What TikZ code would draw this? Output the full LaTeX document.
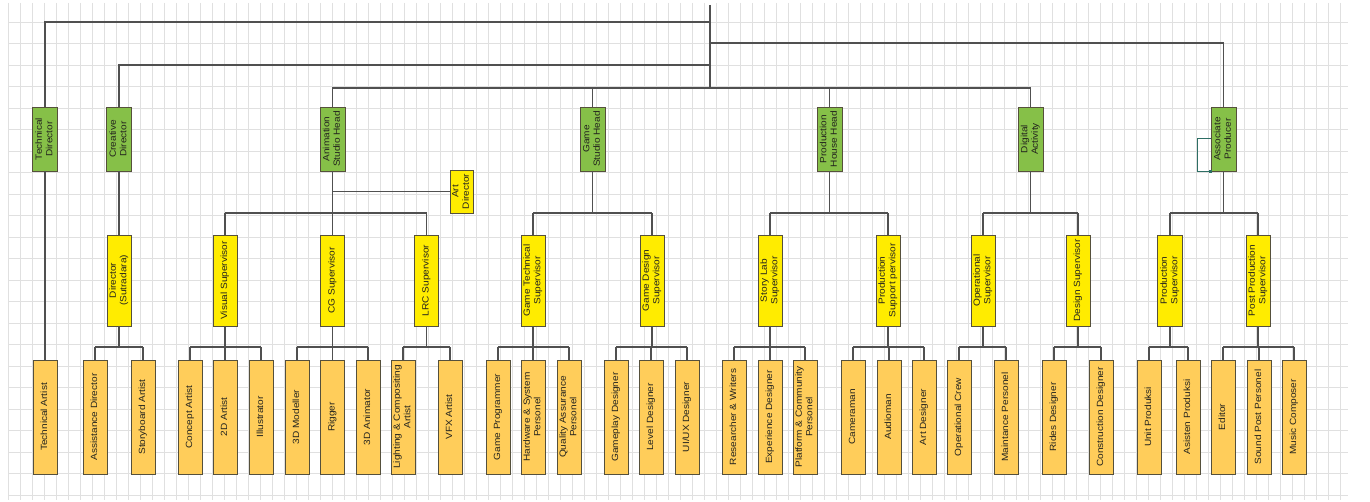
\documentclass[tikz,border=0pt]{standalone}
\usepackage{fontspec}
\setmainfont{Liberation Sans}
\usepackage{graphicx}
\definecolor{headfill}{RGB}{134,192,72}
\definecolor{supfill}{RGB}{255,236,0}
\definecolor{stafffill}{RGB}{255,205,90}
\definecolor{boxline}{RGB}{85,80,60}
\definecolor{connc}{RGB}{80,80,80}
\definecolor{gridc}{RGB}{224,224,224}
\definecolor{txtc}{RGB}{35,35,30}
\definecolor{brackc}{RGB}{45,110,100}
\newcommand\rtext[1]{\rotatebox{90}{\scalebox{1.12}[1]{\begin{tabular}{@{}c@{}}#1\end{tabular}}}}
\newcommand\famtree[5]{%
  \draw[conn] (#1.south) -- (#1.south |- #2);
  \draw[conn] (#3.north |- #2) -- (#4.north |- #2);
  \foreach \ch in {#5}{\draw[conn] (\ch.north) -- (\ch.north |- #2);}%
}
\tikzset{
  base/.style={draw=boxline, line width=0.9pt, inner sep=0pt, minimum width=24pt,
    font=\fontsize{9}{10.5}\selectfont, text=txtc},
  headbox/.style={base, fill=headfill, minimum height=64pt, minimum width=25pt},
  supbox/.style={base, fill=supfill, minimum height=91pt},
  staffbox/.style={base, fill=stafffill, minimum height=114pt},
  conn/.style={draw=connc, line width=1.1pt},
  gridline/.style={draw=gridc, line width=0.6pt},
  brack/.style={draw=brackc, line width=1pt},
}
\begin{document}
\begin{tikzpicture}[x=1pt,y=-1pt]
\useasboundingbox (0,0) rectangle (1370,502);
\fill[white] (0,0) rectangle (1370,502);
% grid
\foreach \gx in {8,20,...,1348} \draw[gridline] (\gx,3) -- (\gx,500);
\foreach \gy in {22,43.5,...,500} \draw[gridline] (8,\gy) -- (1348,\gy);

% heads
\node[headbox] (TD) at (45,139) {\rtext{Technical\\Director}};
\node[headbox] (CD) at (119,139) {\rtext{Creative\\Director}};
\node[headbox] (ASH) at (332.5,139) {\rtext{Animation\\Studio Head}};
\node[headbox] (GSH) at (592.5,139) {\rtext{Game\\Studio Head}};
\node[headbox] (PHH) at (829.5,139) {\rtext{Production\\House Head}};
\node[headbox] (DA) at (1030.5,139) {\rtext{Digital\\Activity}};
\node[headbox] (AP) at (1223.5,139) {\rtext{Associate\\Producer}};
\node[base, fill=supfill, minimum width=23pt, minimum height=43pt] (AD) at (461.5,191.5) {\rtext{Art\\Director}};

% supervisors
\node[supbox] (DIR) at (119,280.5) {\rtext{Director\\(Sutradara)}};
\node[supbox] (VS) at (225,280.5) {\rtext{Visual Supervisor}};
\node[supbox] (CGS) at (332.5,280.5) {\rtext{CG Supervisor}};
\node[supbox] (LRC) at (426.5,280.5) {\rtext{LRC Supervisor}};
\node[supbox] (GTS) at (533,280.5) {\rtext{Game Technical\\Supervisor}};
\node[supbox] (GDS) at (652,280.5) {\rtext{Game Design\\Supervisor}};
\node[supbox] (SLS) at (770,280.5) {\rtext{Story Lab\\Supervisor}};
\node[supbox] (PSS) at (888,280.5) {\rtext{Production\\Support pervisor}};
\node[supbox] (OPS) at (983,280.5) {\rtext{Operational\\Supervisor}};
\node[supbox] (DSS) at (1078,280.5) {\rtext{Design Supervisor}};
\node[supbox, minimum width=25pt] (PRS) at (1170,280.5) {\rtext{Production\\Supervisor}};
\node[supbox] (PPS) at (1258,280.5) {\rtext{Post Production\\Supervisor}};

% staff
\node[staffbox] (TA) at (45,417) {\rtext{Technical Artist}};
\node[staffbox] (AsD) at (95,417) {\rtext{Assistance Director}};
\node[staffbox] (SbA) at (143,417) {\rtext{Storyboard Artist}};
\node[staffbox] (CA) at (190,417) {\rtext{Concept Artist}};
\node[staffbox] (TwoD) at (225,417) {\rtext{2D Artist}};
\node[staffbox] (Ill) at (261,417) {\rtext{Illustrator}};
\node[staffbox] (Mod) at (297,417) {\rtext{3D Modeller}};
\node[staffbox] (Rig) at (332.5,417) {\rtext{Rigger}};
\node[staffbox] (Ani) at (368,417) {\rtext{3D Animator}};
\node[staffbox] (LCA) at (403,417) {\rtext{Lighting \& Compositing\\Artist}};
\node[staffbox] (VFX) at (450,417) {\rtext{VFX Artist}};
\node[staffbox] (GP) at (498,417) {\rtext{Game Programmer}};
\node[staffbox] (HSP) at (533,417) {\rtext{Hardware \& System\\Personel}};
\node[staffbox] (QAP) at (569,417) {\rtext{Quality Assurance\\Personel}};
\node[staffbox] (GD) at (616,417) {\rtext{Gameplay Designer}};
\node[staffbox] (LD) at (651,417) {\rtext{Level Designer}};
\node[staffbox] (UX) at (687,417) {\rtext{UI/UX Designer}};
\node[staffbox] (RW) at (734,417) {\rtext{Researcher \& Writers}};
\node[staffbox] (ED) at (770,417) {\rtext{Experience Designer}};
\node[staffbox] (PCP) at (805,417) {\rtext{Platform \& Community\\Personel}};
\node[staffbox] (Cam) at (853,417) {\rtext{Cameraman}};
\node[staffbox] (Aud) at (889,417) {\rtext{Audioman}};
\node[staffbox] (ArtD) at (924,417) {\rtext{Art Designer}};
\node[staffbox] (OC) at (959,417) {\rtext{Operational Crew}};
\node[staffbox] (MP) at (1006,417) {\rtext{Maintance Personel}};
\node[staffbox] (RD) at (1054,417) {\rtext{Rides Designer}};
\node[staffbox] (CnD) at (1101,417) {\rtext{Construction Designer}};
\node[staffbox] (UP) at (1149,417) {\rtext{Unit Produksi}};
\node[staffbox] (AsP) at (1188,417) {\rtext{Asisten Produksi}};
\node[staffbox] (Ed) at (1223,417) {\rtext{Editor}};
\node[staffbox] (SPP) at (1259,417) {\rtext{Sound Post Personel}};
\node[staffbox] (MC) at (1294,417) {\rtext{Music Composer}};

% top connectors
\coordinate (top) at (710,5);
\coordinate (j1) at (710,22);
\coordinate (j2) at (710,43);
\coordinate (j3) at (710,65);
\coordinate (j4) at (710,88);
\coordinate (L2) at (0,213);
\coordinate (L3) at (0,347);
\draw[conn] (top) -- (j4);
\draw[conn] (j1) -| (TD.north);
\draw[conn] (j2) -| (AP.north);
\draw[conn] (j3) -| (CD.north);
\draw[conn] (j4) -| (ASH.north);
\draw[conn] (j4) -| (GSH.north);
\draw[conn] (j4) -| (PHH.north);
\draw[conn] (j4) -| (DA.north);
\draw[conn] (ASH.south |- AD.west) -- (AD.west);

% level 2
\draw[conn] (TD.south) -- (TA.north);
\draw[conn] (CD.south) -- (DIR.north);
\famtree{ASH}{L2}{VS}{LRC}{VS,CGS,LRC}
\famtree{GSH}{L2}{GTS}{GDS}{GTS,GDS}
\famtree{PHH}{L2}{SLS}{PSS}{SLS,PSS}
\famtree{DA}{L2}{OPS}{DSS}{OPS,DSS}
\famtree{AP}{L2}{PRS}{PPS}{PRS,PPS}

% level 3
\famtree{DIR}{L3}{AsD}{SbA}{AsD,SbA}
\famtree{VS}{L3}{CA}{Ill}{CA,TwoD,Ill}
\famtree{CGS}{L3}{Mod}{Ani}{Mod,Rig,Ani}
\famtree{LRC}{L3}{LCA}{VFX}{LCA,VFX}
\famtree{GTS}{L3}{GP}{QAP}{GP,HSP,QAP}
\famtree{GDS}{L3}{GD}{UX}{GD,LD,UX}
\famtree{SLS}{L3}{RW}{PCP}{RW,ED,PCP}
\famtree{PSS}{L3}{Cam}{ArtD}{Cam,Aud,ArtD}
\famtree{OPS}{L3}{OC}{MP}{OC,MP}
\famtree{DSS}{L3}{RD}{CnD}{RD,CnD}
\famtree{PRS}{L3}{UP}{AsP}{UP,AsP}
\famtree{PPS}{L3}{Ed}{MC}{Ed,SPP,MC}

% bracket on Associate Producer
\draw[brack] (AP.west) -- ++(-13,0) |- (AP.south west);
\fill[brackc] ([xshift=-1.8pt,yshift=-1.8pt]AP.south west) rectangle ([xshift=1.8pt,yshift=1.8pt]AP.south west);
\end{tikzpicture}
\end{document}
